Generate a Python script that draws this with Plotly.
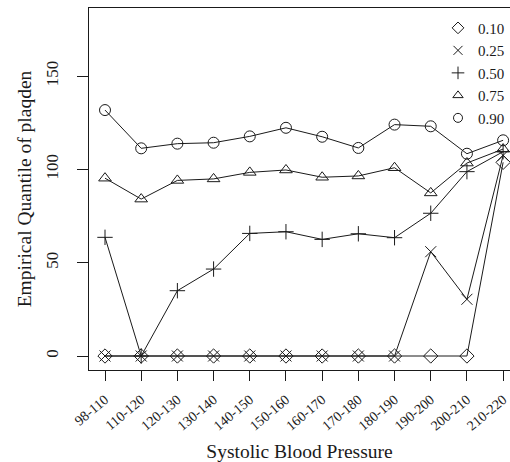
import plotly.graph_objects as go

categories = ["98-110", "110-120", "120-130", "130-140", "140-150", "150-160",
              "160-170", "170-180", "180-190", "190-200", "200-210", "210-220"]
q10 = [0, 0, 0, 0, 0, 0, 0, 0, 0, 0, 0, 103.8]
q25 = [0, 0, 0, 0, 0, 0, 0, 0, 0, 55.9, 30.4, 107.5]
q50 = [63.6, 0, 35.0, 46.6, 65.7, 66.6, 62.5, 65.5, 63.4, 76.5, 98.8, 109.5]
q75 = [95.3, 84.1, 94.1, 94.9, 98.4, 99.7, 95.8, 96.5, 100.9, 87.4, 103.4, 110.9]
q90 = [131.8, 111.3, 113.8, 114.3, 117.7, 122.3, 117.5, 111.5, 124.0, 123.1, 108.4, 115.6]

series = [("0.10", q10, "diamond-open"), ("0.25", q25, "x-thin-open"),
          ("0.50", q50, "cross-thin-open"), ("0.75", q75, "triangle-up-open"),
          ("0.90", q90, "circle-open")]

FONT = "Liberation Serif"
INK = "#1a1a1a"
fig = go.Figure()
for name, vals, sym in series:
    fig.add_trace(go.Scatter(
        x=categories, y=vals, mode="lines+markers", showlegend=False,
        line=dict(color=INK, width=1),
        marker=dict(symbol=sym, size=11, color=INK, line=dict(width=1, color=INK)),
        cliponaxis=False))
for name, vals, sym in series:
    fig.add_trace(go.Scatter(
        x=[None], y=[None], mode="markers", name=name,
        marker=dict(symbol=sym, size=9, color=INK, line=dict(width=1, color=INK))))

fig.update_layout(
    width=510, height=462,
    margin=dict(l=89, r=0, t=8, b=92),
    paper_bgcolor="white", plot_bgcolor="white",
    font=dict(family=FONT, size=14, color=INK),
    showlegend=True,
    legend=dict(x=1.0, y=0.99, xanchor="right", yanchor="top",
                bgcolor="rgba(0,0,0,0)", borderwidth=0,
                font=dict(family=FONT, size=15), itemwidth=30,
                tracegroupgap=0),
)
fig.update_xaxes(
    type="category", range=[-0.442, 11.19], automargin=False,
    showline=True, linecolor=INK, linewidth=1, mirror=True,
    ticks="outside", ticklen=10, tickcolor=INK, tickwidth=1,
    tickangle=-40, tickfont=dict(family=FONT, size=14), ticklabelstandoff=5,
    showgrid=False, zeroline=False,
    title=dict(text="Systolic Blood Pressure", font=dict(family=FONT, size=19.5), standoff=22),
)
fig.update_yaxes(
    range=[-7.5, 186.5], tickvals=[0, 50, 100, 150], automargin=False,
    showline=True, linecolor=INK, linewidth=1, mirror=False,
    ticks="outside", ticklen=11, tickcolor=INK, tickwidth=1,
    tickangle=-90, tickfont=dict(family=FONT, size=17), ticklabelstandoff=12,
    showgrid=False, zeroline=False,
    title=dict(text="Empirical Quantile of plaqden", font=dict(family=FONT, size=19.5), standoff=6),
)
fig.write_html("out.html")
